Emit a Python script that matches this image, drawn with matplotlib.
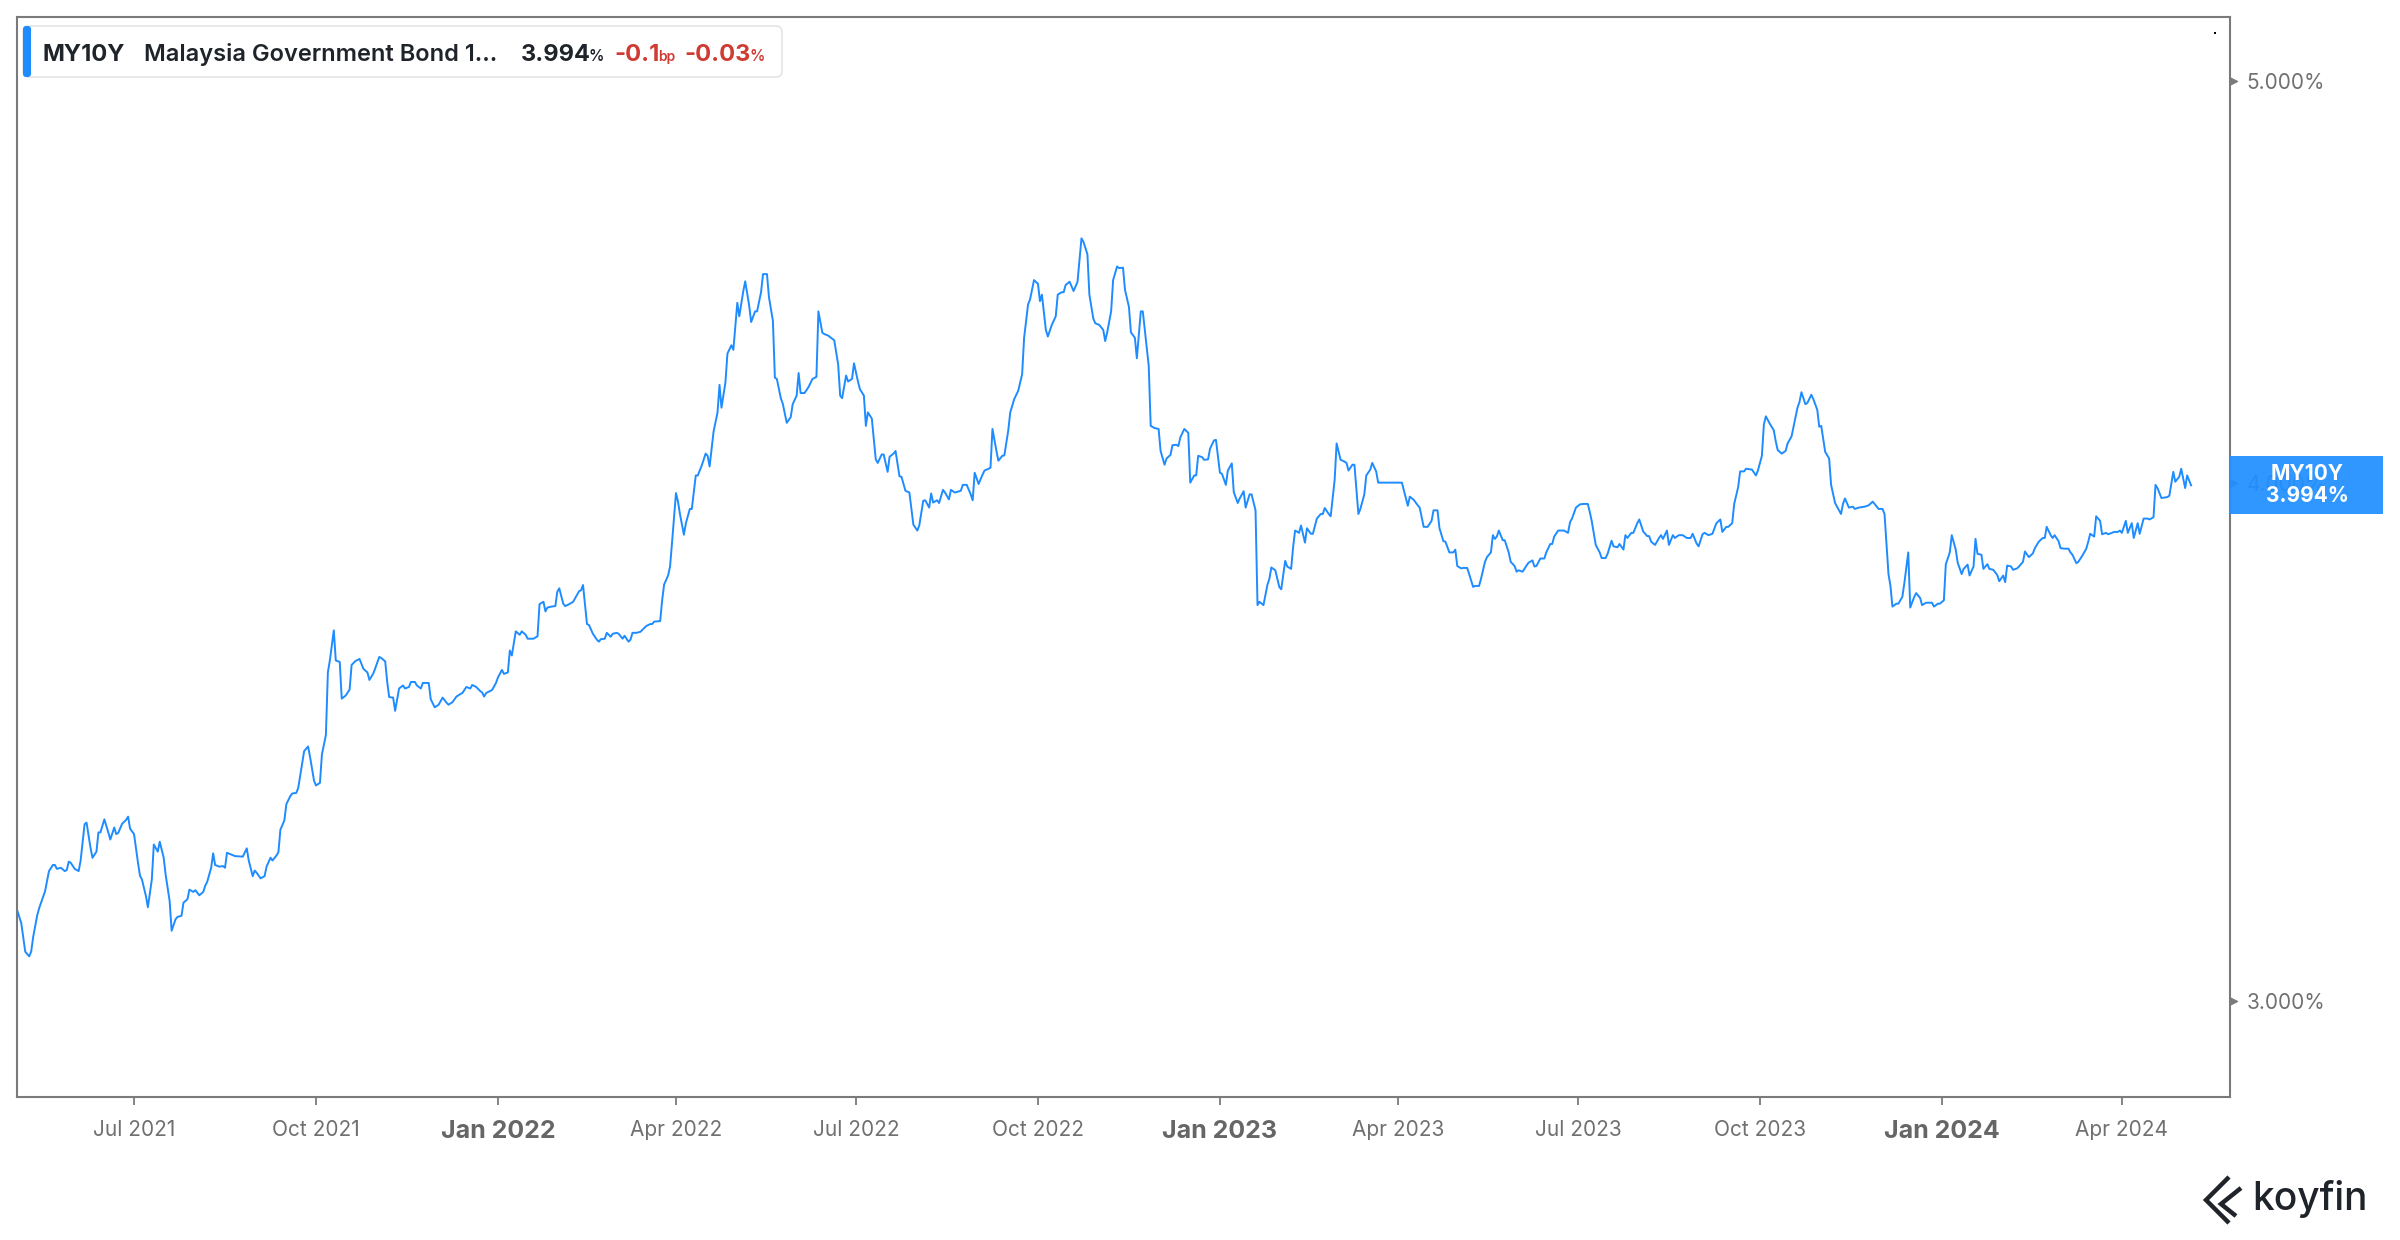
import matplotlib

matplotlib.use("Agg")
import matplotlib.pyplot as plt
import matplotlib.dates as mdates
import pandas as pd
from matplotlib.lines import Line2D
from matplotlib.patches import FancyBboxPatch, Rectangle
from matplotlib.text import Annotation
from matplotlib.ticker import NullLocator
from matplotlib.transforms import IdentityTransform

plt.rcParams["font.family"] = ["Inter", "DejaVu Sans"]

# ---- data: days after START and the yield in % ----
START = "2021-05-03"

part1_day = [0, 2, 4, 6, 7, 8, 10, 11, 14, 16, 18, 19, 20, 22, 24, 25, 26, 27, 29, 31,
             32, 34, 35, 37, 38, 40, 41, 42, 44, 46, 47, 49, 50, 51, 53, 55, 56, 57, 59, 61,
             62, 63, 65, 66, 68, 69, 71, 72, 74, 75, 77, 78, 80, 81, 83, 84, 86, 87, 89, 90,
             92, 94, 95, 96, 98, 99, 100, 102, 104, 105, 106, 108, 110, 114, 116, 117, 119,
             120, 121, 123, 125, 126, 128, 129, 131, 132, 133, 135, 136, 138, 139, 141, 142,
             144, 145, 147, 148, 150, 151, 153, 154, 156, 157, 158, 160, 161, 163, 164, 166,
             168, 169, 171, 173, 175, 177, 178, 180, 183, 184, 186, 187, 188, 190, 191, 193,
             195, 196, 198, 199, 201, 202, 204, 205, 208, 209, 211, 213, 215, 217, 218, 220,
             222, 224, 225, 227]
part1_yld = [3.154, 3.132, 3.083, 3.075, 3.083, 3.108, 3.145, 3.158, 3.188, 3.224,
             3.235, 3.235, 3.228, 3.230, 3.224, 3.226, 3.241, 3.239, 3.228, 3.224,
             3.243, 3.309, 3.312, 3.266, 3.248, 3.259, 3.294, 3.294, 3.318, 3.294,
             3.281, 3.303, 3.291, 3.293, 3.310, 3.317, 3.323, 3.301, 3.291, 3.239,
             3.216, 3.209, 3.180, 3.160, 3.209, 3.272, 3.259, 3.277, 3.248, 3.217,
             3.171, 3.119, 3.139, 3.143, 3.145, 3.168, 3.174, 3.191, 3.187, 3.190,
             3.181, 3.187, 3.198, 3.205, 3.230, 3.256, 3.235, 3.232, 3.233, 3.230,
             3.257, 3.254, 3.251, 3.250, 3.265, 3.243, 3.215, 3.225, 3.221, 3.211,
             3.215, 3.232, 3.248, 3.243, 3.252, 3.258, 3.299, 3.316, 3.346, 3.361,
             3.366, 3.367, 3.376, 3.422, 3.446, 3.455, 3.435, 3.390, 3.381, 3.386,
             3.440, 3.477, 3.600, 3.624, 3.685, 3.624, 3.621, 3.548, 3.554, 3.566,
             3.615, 3.623, 3.627, 3.607, 3.600, 3.585, 3.598, 3.631, 3.629, 3.622,
             3.581, 3.551, 3.550, 3.524, 3.568, 3.574, 3.568, 3.571, 3.581, 3.581,
             3.574, 3.568, 3.579, 3.579, 3.547, 3.531, 3.536, 3.550, 3.540, 3.536,
             3.541, 3.552, 3.557, 3.559, 3.571]

part2_day = [229, 230, 232, 234, 235, 236, 237, 239, 240, 242, 243, 245, 246, 248, 249, 250,
             252, 254, 255, 257, 258, 261, 263, 264, 266, 267, 268, 270, 272, 273, 274, 276,
             277, 279, 281, 284, 285, 286, 288, 289, 291, 293, 294, 295, 297, 298, 300, 301,
             303, 304, 306, 307, 309, 310, 311, 313, 315, 316, 318, 320, 321, 322, 325, 326,
             327, 329, 330, 331, 333, 334, 335, 337, 338, 340, 341, 343, 344, 346, 348, 349,
             350, 352, 354, 355, 356, 358, 359, 361, 362, 364, 365, 367, 368, 370, 371, 373,
             374, 376, 377, 379, 380, 382, 383, 384, 386, 387, 389, 391, 392, 394, 395, 396,
             398, 400, 402, 404, 405, 407, 408, 410, 413, 415, 416, 417, 419, 420, 422, 423,
             425, 426, 428, 429, 430, 432, 434, 435, 437, 438, 440, 441, 443, 444, 446, 447,
             449, 451]
part2_yld = [3.568, 3.575, 3.571, 3.563, 3.560, 3.552, 3.559, 3.563, 3.565, 3.579,
             3.590, 3.605, 3.597, 3.600, 3.644, 3.634, 3.683, 3.676, 3.683, 3.676,
             3.668, 3.668, 3.673, 3.739, 3.744, 3.724, 3.732, 3.734, 3.735, 3.765,
             3.772, 3.740, 3.735, 3.739, 3.744, 3.766, 3.768, 3.779, 3.698, 3.696,
             3.678, 3.666, 3.662, 3.667, 3.668, 3.680, 3.672, 3.678, 3.680, 3.678,
             3.668, 3.674, 3.662, 3.666, 3.680, 3.680, 3.682, 3.686, 3.694, 3.698,
             3.698, 3.703, 3.704, 3.747, 3.780, 3.799, 3.818, 3.869, 3.977, 3.958,
             3.931, 3.886, 3.911, 3.942, 3.942, 4.016, 4.016, 4.038, 4.065, 4.060,
             4.036, 4.115, 4.159, 4.223, 4.170, 4.229, 4.297, 4.317, 4.306, 4.420,
             4.387, 4.448, 4.473, 4.413, 4.373, 4.399, 4.399, 4.446, 4.491, 4.491,
             4.434, 4.376, 4.240, 4.237, 4.192, 4.179, 4.135, 4.148, 4.178, 4.198,
             4.251, 4.204, 4.204, 4.218, 4.237, 4.242, 4.399, 4.347, 4.344, 4.340,
             4.329, 4.271, 4.198, 4.192, 4.245, 4.231, 4.237, 4.274, 4.231, 4.213,
             4.198, 4.128, 4.159, 4.145, 4.052, 4.044, 4.063, 4.063, 4.024, 4.058,
             4.065, 4.071, 4.014, 4.013, 3.982, 3.978]

part3_day = [453, 455, 456, 458, 459, 461, 462, 463, 465, 466, 468, 469, 471, 472, 474, 477,
             478, 480, 482, 483, 484, 486, 488, 489, 492, 493, 495, 496, 498, 499, 501, 502,
             504, 506, 508, 509, 511, 512, 514, 516, 517, 518, 520, 521, 523, 525, 526, 528,
             529, 530, 532, 534, 535, 536, 538, 539, 541, 542, 544, 545, 547, 549, 550, 551,
             553, 554, 556, 557, 559, 560, 562, 563, 565, 566, 568, 569, 572, 573, 575, 577,
             578, 580, 581, 583, 584, 586, 587, 588, 590, 592, 593, 595, 596, 597, 599, 600,
             602, 603, 605, 606, 608, 609, 611, 612, 614, 615, 617, 618, 620, 621, 623, 624,
             626, 627, 628, 630, 632, 633, 634, 636, 638, 639, 641, 642, 644, 645, 646, 648,
             649, 651, 652, 654, 655, 657, 659, 660, 661, 663, 664, 666, 667, 669, 671, 672,
             673, 675, 676]
part3_yld = [3.908, 3.895, 3.906, 3.960, 3.961, 3.945, 3.976, 3.956, 3.961, 3.955,
             3.984, 3.978, 3.963, 3.984, 3.978, 3.982, 3.995, 3.995, 3.974, 3.961,
             4.022, 3.997, 4.018, 4.027, 4.033, 4.121, 4.071, 4.049, 4.060, 4.061,
             4.118, 4.159, 4.190, 4.209, 4.248, 4.335, 4.416, 4.428, 4.476, 4.467,
             4.424, 4.440, 4.354, 4.338, 4.366, 4.387, 4.440, 4.446, 4.446, 4.464,
             4.472, 4.449, 4.460, 4.472, 4.581, 4.572, 4.541, 4.440, 4.381, 4.370,
             4.366, 4.354, 4.327, 4.348, 4.399, 4.476, 4.510, 4.506, 4.507, 4.452,
             4.410, 4.348, 4.335, 4.286, 4.399, 4.399, 4.268, 4.128, 4.123, 4.121,
             4.071, 4.040, 4.054, 4.062, 4.084, 4.085, 4.082, 4.102, 4.121, 4.112,
             4.000, 4.016, 4.016, 4.060, 4.057, 4.051, 4.052, 4.076, 4.095, 4.096,
             4.022, 4.020, 3.995, 4.027, 4.043, 3.979, 3.955, 3.965, 3.981, 3.945,
             3.974, 3.974, 3.939, 3.737, 3.744, 3.737, 3.779, 3.792, 3.816, 3.810,
             3.775, 3.770, 3.830, 3.818, 3.813, 3.859, 3.895, 3.890, 3.906, 3.869,
             3.900, 3.888, 3.888, 3.921, 3.931, 3.931, 3.944, 3.931, 3.926, 4.006,
             4.088, 4.051, 4.047, 4.044, 4.027, 4.040, 4.040]

part4_day = [678, 679, 681, 682, 684, 685, 687, 688, 700, 702, 703, 704, 706, 708, 709, 711,
             713, 715, 716, 718, 719, 721, 722, 724, 726, 727, 728, 730, 731, 733, 734, 736,
             737, 739, 740, 742, 743, 745, 746, 747, 748, 749, 751, 752, 754, 755, 757, 758,
             759, 761, 763, 764, 766, 767, 768, 770, 772, 773, 775, 776, 777, 779, 781, 782,
             784, 785, 786, 788, 790, 792, 794, 795, 796, 798, 800, 801, 803, 804, 806, 807,
             809, 810, 812, 813, 814, 816, 817, 819, 820, 822, 824, 825, 826, 828, 830, 831,
             832, 834, 835, 837, 838, 840, 842, 844, 846, 847, 849, 850, 852, 853, 855, 857,
             859, 861, 862, 864, 865, 867, 868, 870, 871, 873, 874, 877, 879, 880, 882, 883,
             884, 886, 888, 889, 890, 892, 894, 895, 897, 898, 900, 901]
part4_yld = [3.931, 3.942, 3.974, 4.016, 4.029, 4.044, 4.025, 4.000, 4.000, 3.966,
             3.949, 3.969, 3.962, 3.950, 3.945, 3.903, 3.903, 3.916, 3.939, 3.939,
             3.900, 3.872, 3.871, 3.848, 3.848, 3.854, 3.819, 3.814, 3.815, 3.815,
             3.802, 3.775, 3.777, 3.777, 3.792, 3.828, 3.838, 3.848, 3.885, 3.877,
             3.882, 3.895, 3.874, 3.874, 3.848, 3.828, 3.819, 3.807, 3.810, 3.807,
             3.820, 3.826, 3.831, 3.818, 3.819, 3.835, 3.835, 3.848, 3.866, 3.866,
             3.882, 3.895, 3.895, 3.895, 3.890, 3.913, 3.921, 3.945, 3.952, 3.953,
             3.953, 3.935, 3.915, 3.864, 3.848, 3.836, 3.836, 3.845, 3.873, 3.861,
             3.859, 3.866, 3.854, 3.885, 3.879, 3.890, 3.890, 3.911, 3.919, 3.893,
             3.883, 3.883, 3.871, 3.864, 3.879, 3.885, 3.877, 3.895, 3.864, 3.885,
             3.879, 3.885, 3.885, 3.879, 3.879, 3.888, 3.867, 3.861, 3.887, 3.890,
             3.885, 3.888, 3.911, 3.919, 3.892, 3.903, 3.903, 3.911, 3.953, 3.990,
             4.025, 4.025, 4.031, 4.029, 4.016, 4.027, 4.060, 4.131, 4.150, 4.133,
             4.118, 4.093, 4.073, 4.065, 4.071, 4.088, 4.104, 4.126, 4.170, 4.183]

part5_day = [902, 904, 905, 907, 908, 910, 911, 912, 914, 916, 917, 919, 920, 922, 923, 924,
             926, 928, 929, 931, 934, 936, 938, 939, 941, 943, 944, 946, 947, 948, 950, 951,
             953, 954, 956, 957, 959, 960, 962, 963, 965, 968, 969, 971, 972, 974, 975, 977,
             978, 980, 981, 983, 984, 986, 987, 989, 990, 991, 993, 994, 996, 997, 999, 1001,
             1002, 1004, 1005, 1006, 1008, 1009, 1011, 1012, 1014, 1015, 1017, 1019, 1020,
             1022, 1024, 1025, 1026, 1028, 1029, 1030, 1032, 1033, 1035, 1037, 1038, 1039,
             1041, 1042, 1044, 1046, 1047, 1048, 1050, 1051, 1053, 1054, 1056, 1057, 1059,
             1060, 1062, 1063, 1064, 1066, 1067, 1069, 1070, 1072, 1073, 1075, 1077, 1078,
             1080, 1081, 1082, 1084, 1087, 1088, 1090, 1091, 1093, 1094, 1096, 1097, 1099]
part5_yld = [4.206, 4.178, 4.181, 4.200, 4.190, 4.165, 4.126, 4.128, 4.069, 4.054,
             3.995, 3.955, 3.947, 3.931, 3.953, 3.965, 3.945, 3.947, 3.942, 3.945,
             3.947, 3.950, 3.958, 3.953, 3.942, 3.942, 3.931, 3.802, 3.777, 3.734,
             3.740, 3.740, 3.754, 3.782, 3.848, 3.732, 3.754, 3.762, 3.752, 3.737,
             3.742, 3.742, 3.734, 3.740, 3.740, 3.747, 3.823, 3.848, 3.885, 3.854,
             3.826, 3.802, 3.813, 3.822, 3.799, 3.818, 3.877, 3.845, 3.843, 3.813,
             3.823, 3.813, 3.811, 3.800, 3.787, 3.799, 3.785, 3.820, 3.818, 3.811,
             3.814, 3.818, 3.828, 3.850, 3.838, 3.846, 3.857, 3.871, 3.879, 3.879,
             3.903, 3.885, 3.879, 3.885, 3.872, 3.857, 3.856, 3.856, 3.848, 3.843,
             3.825, 3.828, 3.841, 3.856, 3.871, 3.888, 3.882, 3.926, 3.916, 3.887,
             3.890, 3.887, 3.890, 3.892, 3.892, 3.895, 3.890, 3.916, 3.890, 3.911,
             3.879, 3.911, 3.888, 3.921, 3.921, 3.919, 3.924, 3.995, 3.988, 3.966,
             3.968, 3.971, 4.024, 4.002, 4.013, 4.031, 3.988, 4.016, 3.994]

TICK_DATES = ["2021-07-01", "2021-10-01", "2022-01-01", "2022-04-01", "2022-07-01",
              "2022-10-01", "2023-01-01", "2023-04-01", "2023-07-01", "2023-10-01",
              "2024-01-01", "2024-04-01"]
Y_TICKS = [3.0, 4.0, 5.0]

TICKER = "MY10Y"
NAME = "Malaysia Government Bond 1\u2026"
LAST = 3.994
CHG_BP = -0.1
CHG_PCT = -0.03

# ---- styling ----
W, H = 2400, 1240
LINE = "#1e8cff"
BOX = "#1f8fff"
SPINE = "#7a7a7a"
TICK_TXT = "#707070"
DARK = "#1f232a"
RED = "#d03b33"

days = part1_day + part2_day + part3_day + part4_day + part5_day
ylds = part1_yld + part2_yld + part3_yld + part4_yld + part5_yld
dates = pd.Timestamp(START) + pd.to_timedelta(days, unit="D")

fig = plt.figure(figsize=(W / 100, H / 100), dpi=100)
fig.patch.set_facecolor("white")
ax = fig.add_axes([17 / W, 1 - 1097 / H, (2230 - 17) / W, (1097 - 17) / H])

ax.plot(dates, ylds, color=LINE, lw=1.4, solid_joinstyle="round", zorder=3)

ax.set_yscale("log")
ax.set_ylim(2.844, 5.18)
ax.set_xlim(pd.Timestamp(START) - pd.Timedelta(hours=4), pd.Timestamp("2024-05-25 16:00"))

for s in ax.spines.values():
    s.set_color(SPINE)
    s.set_linewidth(1.5)

# x axis: quarterly ticks, January in bold
ticks = pd.to_datetime(TICK_DATES)
ax.set_xticks(ticks)
ax.set_xticklabels([t.strftime("%b %Y") for t in ticks])
ax.tick_params(axis="x", direction="out", length=5.5, width=1.3, color=SPINE,
               labelcolor=TICK_TXT, labelsize=15, pad=11)
for t, lab in zip(ticks, ax.get_xticklabels()):
    if t.month == 1:
        lab.set_fontsize(18)
        lab.set_fontweight("bold")
        lab.set_color("#666666")

# y axis on the right, log scale
ax.yaxis.tick_right()
ax.yaxis.set_minor_locator(NullLocator())
ax.set_yticks(Y_TICKS)
ax.set_yticklabels([f"{v:.3f}%" for v in Y_TICKS])
ax.tick_params(axis="y", length=0, labelcolor=TICK_TXT, labelsize=15, pad=12)
ax.plot([1.0] * len(Y_TICKS), Y_TICKS, transform=ax.get_yaxis_transform(),
        marker=[(0, -0.5), (1, 0), (0, 0.5)], ms=10, ls="none", color=SPINE,
        clip_on=False, zorder=4)

# last value tag on the right axis (the 4.000% label shows faintly through it)
px = IdentityTransform()
y_last = ax.transData.transform((mdates.date2num(dates[-1]), ylds[-1]))[1]
fig.add_artist(Rectangle((2230, y_last - 29), 153, 58, transform=px,
                         facecolor=BOX, edgecolor="none", alpha=0.93, zorder=5))
fig.text(2307, y_last + 11, TICKER, transform=px, ha="center", va="center",
         color="white", fontsize=15, fontweight="bold", zorder=6)
fig.text(2307, y_last - 11, f"{LAST:.3f}%", transform=px, ha="center", va="center",
         color="white", fontsize=15, fontweight="bold", zorder=6)

# header legend box
fig.add_artist(FancyBboxPatch((23, H - 77), 759, 51, transform=px,
                              boxstyle="round,pad=0,rounding_size=6",
                              facecolor="white", edgecolor="#e4e4e4", lw=1.2, zorder=5))
fig.add_artist(FancyBboxPatch((23, H - 77), 8, 51, transform=px,
                              boxstyle="round,pad=0,rounding_size=3",
                              facecolor=LINE, edgecolor="none", zorder=6))

base = H - 61
t = fig.text(43, base, TICKER, transform=px, fontsize=17, fontweight="bold",
             color=DARK, va="baseline", zorder=7)


def follow(prev, s, gap, **kw):
    a = Annotation(s, xy=(1, base), xycoords=(prev, "figure pixels"),
                   xytext=(gap, 0), textcoords="offset points", ha="left",
                   va="baseline", annotation_clip=False, zorder=7, **kw)
    fig.add_artist(a)
    return a


t = follow(t, NAME, 13, fontsize=17, fontweight="semibold", color=DARK)
t = follow(t, f"{LAST:.3f}", 17, fontsize=17, fontweight="bold", color=DARK)
t = follow(t, "%", -1.5, fontsize=11, fontweight="semibold", color=DARK)
t = follow(t, f"{CHG_BP:.1f}", 8, fontsize=17, fontweight="bold", color=RED)
t = follow(t, "bp", -1.5, fontsize=10, fontweight="semibold", color=RED)
t = follow(t, f"{CHG_PCT:.2f}", 7, fontsize=17, fontweight="bold", color=RED)
t = follow(t, "%", -1.5, fontsize=11, fontweight="semibold", color=RED)

# tiny mark at the top right corner of the plot
fig.add_artist(Rectangle((2214, H - 34), 2, 2, transform=px, facecolor="black",
                         edgecolor="none", zorder=6))

# koyfin logo
for xs, ys in (([2229, 2206, 2229], [1177, 1200, 1223]),
               ([2241, 2221, 2236], [1188, 1204, 1216])):
    fig.add_artist(Line2D(xs, [H - y for y in ys], transform=px, color=DARK,
                          lw=3.2, solid_joinstyle="miter", solid_capstyle="butt"))
fig.text(2252, H - 1210, "koyfin", transform=px, fontsize=28, fontweight="medium",
         color=DARK, va="baseline")

fig.savefig("out.png", dpi=100, facecolor="white")
